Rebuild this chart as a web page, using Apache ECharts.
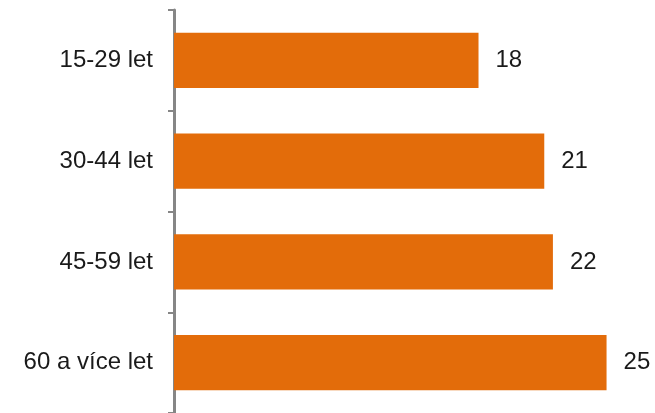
<!DOCTYPE html>
<html>
<head>
<meta charset="utf-8">
<script src="https://cdn.jsdelivr.net/npm/echarts@6/dist/echarts.min.js"></script>
<style>html,body{margin:0;padding:0;background:#fff}#c{width:655px;height:413px}</style>
</head>
<body>
<div id="c"></div>
<script>
const categories = ["15-29 let", "30-44 let", "45-59 let", "60 a více let"];
const values = [17.6, 21.4, 21.9, 25.0];
const valueLabels = ["18", "21", "22", "25"];

const chart = echarts.init(document.getElementById('c'), null, {renderer: 'canvas'});
chart.setOption({
  animation: false,
  grid: {left: 174, top: 10, width: 483, height: 404, containLabel: false},
  xAxis: {
    type: 'value', min: 0, max: 27.8, show: false
  },
  yAxis: {
    type: 'category', data: categories, inverse: true,
    axisLine: {show: true, lineStyle: {color: '#868686', width: 3}},
    axisTick: {show: true, length: 6, lineStyle: {color: '#868686', width: 2}},
    axisLabel: {
      margin: 21, fontSize: 24, color: '#1a1a1a',
      fontFamily: 'Liberation Sans, Arial, sans-serif'
    }
  },
  series: [{
    type: 'bar',
    data: values,
    barCategoryGap: '45%',
    itemStyle: {color: '#E36C0A'},
    label: {
      show: true, position: 'right', distance: 17,
      fontSize: 24, color: '#1a1a1a',
      fontFamily: 'Liberation Sans, Arial, sans-serif',
      formatter: p => valueLabels[p.dataIndex]
    }
  }]
});
</script>
</body>
</html>
